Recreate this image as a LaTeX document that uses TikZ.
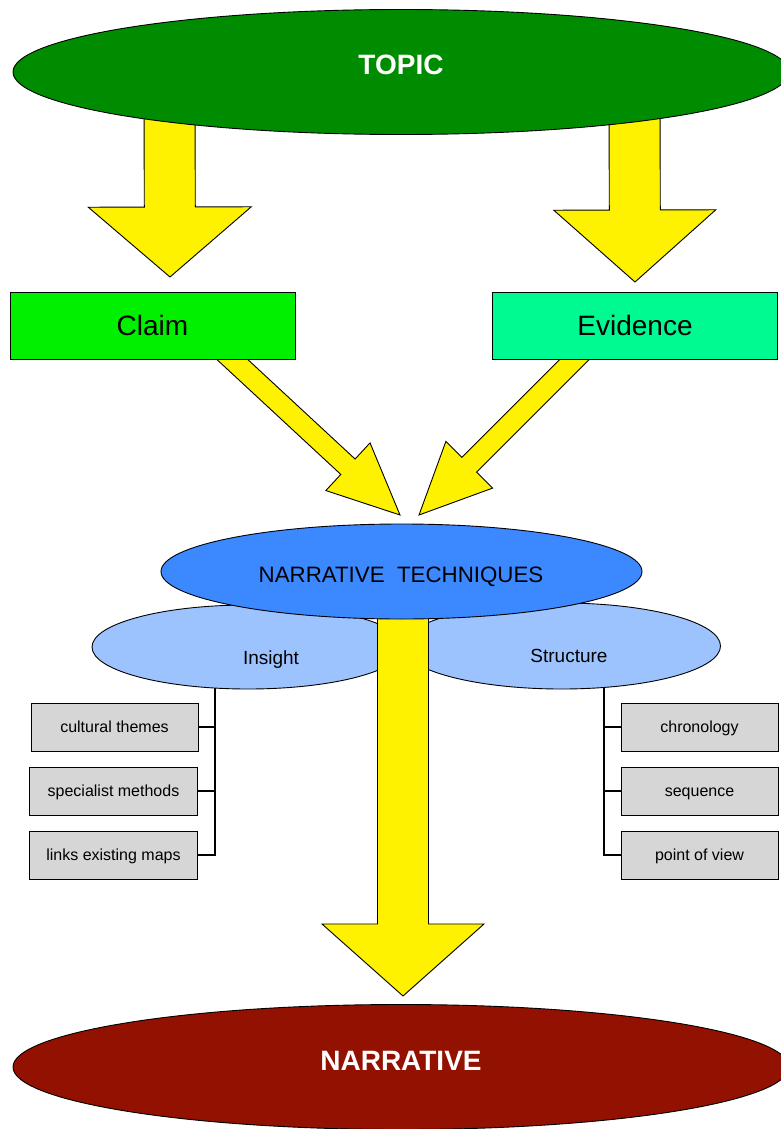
\documentclass[tikz,border=0pt]{standalone}
\usepackage{fontspec}
\setmainfont{Liberation Sans}
\usetikzlibrary{calc,shapes.geometric}

\definecolor{topicgreen}{RGB}{0,140,0}
\definecolor{claimgreen}{RGB}{0,240,0}
\definecolor{evidencegreen}{RGB}{0,250,146}
\definecolor{techblue}{RGB}{60,136,255}
\definecolor{petalblue}{RGB}{157,195,255}
\definecolor{narrativered}{RGB}{147,17,0}
\definecolor{boxgray}{RGB}{214,214,214}

\pgfdeclarelayer{arrowlayer}
\pgfdeclarelayer{petallayer}
\pgfdeclarelayer{stemlayer}
\pgfsetlayers{arrowlayer,petallayer,stemlayer,main}

\tikzset{
  bigoval/.style={ellipse, draw, line width=0.9pt, minimum width=776pt, minimum height=125pt, inner sep=0pt},
  bigtext/.style={text=white, inner sep=0pt, text depth=0pt, font=\fontsize{28}{32}\selectfont\bfseries},
  techoval/.style={ellipse, draw, line width=0.9pt, fill=techblue, minimum width=481pt, minimum height=95pt, inner sep=0pt},
  techtext/.style={inner sep=0pt, text depth=0pt, font=\fontsize{22.3}{26}\selectfont},
  petal/.style={ellipse, draw, line width=0.9pt, fill=petalblue, minimum height=84pt, inner sep=0pt},
  petaltext/.style={inner sep=0pt, text depth=0pt, font=\fontsize{19}{22}\selectfont},
  bigbox/.style={draw, line width=0.9pt, minimum width=285pt, minimum height=67pt, text depth=0pt, font=\fontsize{28}{32}\selectfont},
  itembox/.style={draw, line width=0.9pt, fill=boxgray, minimum height=48pt, inner sep=0pt, text height=11.5pt, text depth=0pt, font=\fontsize{16}{19}\selectfont},
  yellowarrow/.style={draw, line width=0.9pt, fill=yellow, line join=miter},
  branch/.style={draw, line width=2pt},
}

% from, tip, shaft half width, head half width, head length
\newcommand{\blockarrow}[5]{%
  \path ($(#2)!#5!(#1)$) coordinate (ba-h);
  \draw[yellowarrow] ($(#1)!#3!90:(#2)$) -- ($(ba-h)!#3!90:(#2)$) -- ($(ba-h)!#4!90:(#2)$)
    -- (#2) -- ($(ba-h)!#4!-90:(#2)$) -- ($(ba-h)!#3!-90:(#2)$) -- ($(#1)!#3!-90:(#2)$) -- cycle;
}

\begin{document}
\begin{tikzpicture}[x=1pt,y=1pt,yscale=-1]
\useasboundingbox (0,0) rectangle (781,1129);

% Ellipse: topic
\node[bigoval, fill=topicgreen] (topic) at (401,72) {};
\node[bigtext] (topiclbl) at (401,65) {TOPIC};
% Rectangles: claim and evidence
\node[bigbox, fill=claimgreen] (claim) at (152.5,325.5) {Claim};
\node[bigbox, fill=evidencegreen] (evidence) at (635,325.5) {Evidence};

% Ellipse: techniques with its two petals
\node[techoval] (tech) at (401.5,571.5) {};
\node[techtext] (techlbl) at (401,575) {NARRATIVE\ \ TECHNIQUES};
\begin{pgfonlayer}{petallayer}
\node[petal, minimum width=312pt] (insight) at (248,647) {};
\node[petal, minimum width=318pt, minimum height=86pt] (structure) at (561.5,646) {};
\end{pgfonlayer}
\node[petaltext] (insightlbl) at (271,657.5) {Insight};
\node[petaltext] (structurelbl) at (569,655.5) {Structure};

% Rectangles: insight items
\node[itembox, minimum width=167pt] (themes) at (114.5,727) {cultural themes};
\node[itembox, minimum width=168pt] (methods) at (113.5,791) {specialist methods};
\node[itembox, minimum width=168pt] (maps) at (113.5,855) {links existing maps};
% Rectangles: structure items
\node[itembox, minimum width=157pt] (chrono) at (699.5,727) {chronology};
\node[itembox, minimum width=157pt] (sequence) at (699.5,791) {sequence};
\node[itembox, minimum width=157pt] (pov) at (699.5,855) {point of view};

% Ellipse: narrative
\node[bigoval, fill=narrativered] (narrative) at (401,1067) {};
\node[bigtext] (narrativelbl) at (401,1061) {NARRATIVE};

% Arrow ends
\coordinate (topicleft) at (169.5,100);
\coordinate (claimtip) at (170,277);
\coordinate (topicright) at (634.5,100);
\coordinate (evidencetip) at (635,282);
\coordinate (claimfoot) at (200.5,330);
\coordinate (claimtechtip) at (400,515);
\coordinate (evidencefoot) at (604,330);
\coordinate (evidencetechtip) at (419,515);
\coordinate (techfoot) at (403,600);
\coordinate (narrativetip) at (403,996);
\coordinate (insightroot) at (215,688);
\coordinate (structureroot) at (604,687);

% Block arrows
\begin{pgfonlayer}{arrowlayer}
\blockarrow{topicleft}{claimtip}{25.5pt}{81.5pt}{70pt}
\blockarrow{topicright}{evidencetip}{25.5pt}{81pt}{72pt}
\blockarrow{claimfoot}{claimtechtip}{10.5pt}{32.5pt}{71pt}
\blockarrow{evidencefoot}{evidencetechtip}{10.5pt}{33pt}{71pt}
\end{pgfonlayer}
\begin{pgfonlayer}{stemlayer}
\blockarrow{techfoot}{narrativetip}{25.5pt}{81pt}{72pt}
\end{pgfonlayer}

% Branch lines
\foreach \item in {themes,methods,maps}
  \draw[branch] (insightroot) |- (\item.east);
\foreach \item in {chrono,sequence,pov}
  \draw[branch] (structureroot) |- (\item.west);

\end{tikzpicture}
\end{document}
